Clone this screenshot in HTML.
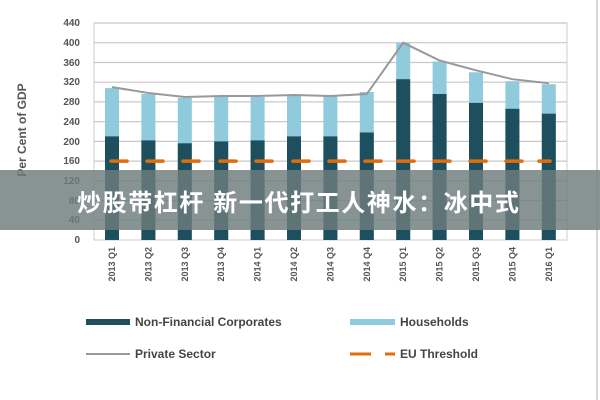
<!DOCTYPE html>
<html><head><meta charset="utf-8"><style>
body{margin:0;background:#fff;width:600px;height:400px;overflow:hidden;position:relative;font-family:"Liberation Sans",sans-serif}
svg{position:absolute;left:0;top:0}
.banner{position:absolute;left:0;top:170px;width:600px;height:60px;background:rgba(110,125,125,0.82);}
.bt{position:absolute;left:77px;top:183px;color:#fff;font:bold 24px "Liberation Sans","Noto Sans CJK SC",sans-serif;letter-spacing:1.6px;white-space:nowrap}
</style></head><body>
<svg width="600" height="400" viewBox="0 0 600 400">
<line x1="597" y1="0" x2="597" y2="400" stroke="#ccc" stroke-width="1.5"/>
<rect x="94" y="23" width="473" height="217" fill="none" stroke="#ccc"/>
<g stroke="#c8c8c8" stroke-width="1.2">
<line x1="94" x2="567" y1="220.3" y2="220.3"/><line x1="94" x2="567" y1="200.5" y2="200.5"/><line x1="94" x2="567" y1="180.8" y2="180.8"/><line x1="94" x2="567" y1="161.1" y2="161.1"/><line x1="94" x2="567" y1="141.4" y2="141.4"/><line x1="94" x2="567" y1="121.6" y2="121.6"/><line x1="94" x2="567" y1="101.9" y2="101.9"/><line x1="94" x2="567" y1="82.2" y2="82.2"/><line x1="94" x2="567" y1="62.5" y2="62.5"/><line x1="94" x2="567" y1="42.7" y2="42.7"/><line x1="94" x2="567" y1="23" y2="23"/>
</g>
<g font-size="10" fill="#555" text-anchor="end" font-weight="bold">
<text x="80" y="243">0</text><text x="80" y="223">40</text><text x="80" y="204">80</text><text x="80" y="184">120</text><text x="80" y="164">160</text><text x="80" y="145">200</text><text x="80" y="125">240</text><text x="80" y="105">280</text><text x="80" y="85">320</text><text x="80" y="66">360</text><text x="80" y="46">400</text><text x="80" y="26">440</text>
</g>
<text transform="translate(26,130) rotate(-90)" font-size="12" fill="#555" font-weight="bold" text-anchor="middle">Per Cent of GDP</text>
<g fill="#8fcbdc">
<rect x="105" y="88.1" width="14" height="152"/><rect x="141.4" y="94" width="14" height="146"/><rect x="177.8" y="98" width="14" height="142"/><rect x="214.2" y="97" width="14" height="143"/><rect x="250.6" y="97" width="14" height="143"/><rect x="287" y="96" width="14" height="144"/><rect x="323.4" y="96" width="14" height="144"/><rect x="359.8" y="92" width="14" height="148"/><rect x="396.2" y="42.7" width="14" height="197.3"/><rect x="432.6" y="61.5" width="14" height="178.5"/><rect x="469" y="72.3" width="14" height="167.7"/><rect x="505.4" y="81.2" width="14" height="158.8"/><rect x="541.8" y="84.2" width="14" height="155.8"/>
</g>
<g fill="#1d4f5e">
<rect x="105" y="136.4" width="14" height="103.6"/><rect x="141.4" y="140.4" width="14" height="99.6"/><rect x="177.8" y="143.3" width="14" height="96.7"/><rect x="214.2" y="141.4" width="14" height="98.6"/><rect x="250.6" y="140.4" width="14" height="99.6"/><rect x="287" y="136.4" width="14" height="103.6"/><rect x="323.4" y="136.4" width="14" height="103.6"/><rect x="359.8" y="132.5" width="14" height="107.5"/><rect x="396.2" y="79.2" width="14" height="160.8"/><rect x="432.6" y="94" width="14" height="146"/><rect x="469" y="102.9" width="14" height="137.1"/><rect x="505.4" y="108.8" width="14" height="131.2"/><rect x="541.8" y="113.7" width="14" height="126.3"/>
</g>
<polyline fill="none" stroke="#999" stroke-width="2" points="112,87.1 148.4,93 184.8,97 221.2,96 257.6,96 294,95 330.4,96 366.8,94 403.2,42.7 439.6,60.5 476,70.3 512.4,79.2 548.8,83.2"/>
<g stroke="#e36c0a" stroke-width="3.5" stroke-linecap="round">
<line x1="111" x2="127" y1="161.1" y2="161.1"/><line x1="147" x2="163" y1="161.1" y2="161.1"/><line x1="183" x2="199" y1="161.1" y2="161.1"/><line x1="220" x2="236" y1="161.1" y2="161.1"/><line x1="256" x2="272" y1="161.1" y2="161.1"/><line x1="293" x2="309" y1="161.1" y2="161.1"/><line x1="329" x2="345" y1="161.1" y2="161.1"/><line x1="365" x2="381" y1="161.1" y2="161.1"/><line x1="398" x2="414" y1="161.1" y2="161.1"/><line x1="434" x2="450" y1="161.1" y2="161.1"/><line x1="470" x2="486" y1="161.1" y2="161.1"/><line x1="506" x2="522" y1="161.1" y2="161.1"/><line x1="539" x2="550" y1="161.1" y2="161.1"/>
</g>
<g font-size="9" fill="#555" text-anchor="end" font-weight="bold">
<text transform="translate(115,247) rotate(-90)">2013 Q1</text><text transform="translate(151.4,247) rotate(-90)">2013 Q2</text><text transform="translate(187.8,247) rotate(-90)">2013 Q3</text><text transform="translate(224.2,247) rotate(-90)">2013 Q4</text><text transform="translate(260.6,247) rotate(-90)">2014 Q1</text><text transform="translate(297,247) rotate(-90)">2014 Q2</text><text transform="translate(333.4,247) rotate(-90)">2014 Q3</text><text transform="translate(369.8,247) rotate(-90)">2014 Q4</text><text transform="translate(406.2,247) rotate(-90)">2015 Q1</text><text transform="translate(442.6,247) rotate(-90)">2015 Q2</text><text transform="translate(479,247) rotate(-90)">2015 Q3</text><text transform="translate(515.4,247) rotate(-90)">2015 Q4</text><text transform="translate(551.8,247) rotate(-90)">2016 Q1</text>
</g>
<rect x="86" y="319" width="44" height="6" fill="#1d4f5e"/>
<rect x="350" y="319" width="45" height="6" fill="#8fcbdc"/>
<line x1="86" x2="130" y1="354" y2="354" stroke="#999" stroke-width="2"/>
<line x1="350" x2="371" y1="354" y2="354" stroke="#e36c0a" stroke-width="3"/>
<line x1="385" x2="395" y1="354" y2="354" stroke="#e36c0a" stroke-width="3"/>
<g font-size="12" font-weight="bold" fill="#444">
<text x="135" y="326">Non-Financial Corporates</text><text x="400" y="326">Households</text>
<text x="135" y="358">Private Sector</text><text x="400" y="358">EU Threshold</text>
</g>
</svg>
<div class="banner"></div>
<div class="bt">炒股带杠杆 新一代打工人神水：冰中式</div>
</body></html>
